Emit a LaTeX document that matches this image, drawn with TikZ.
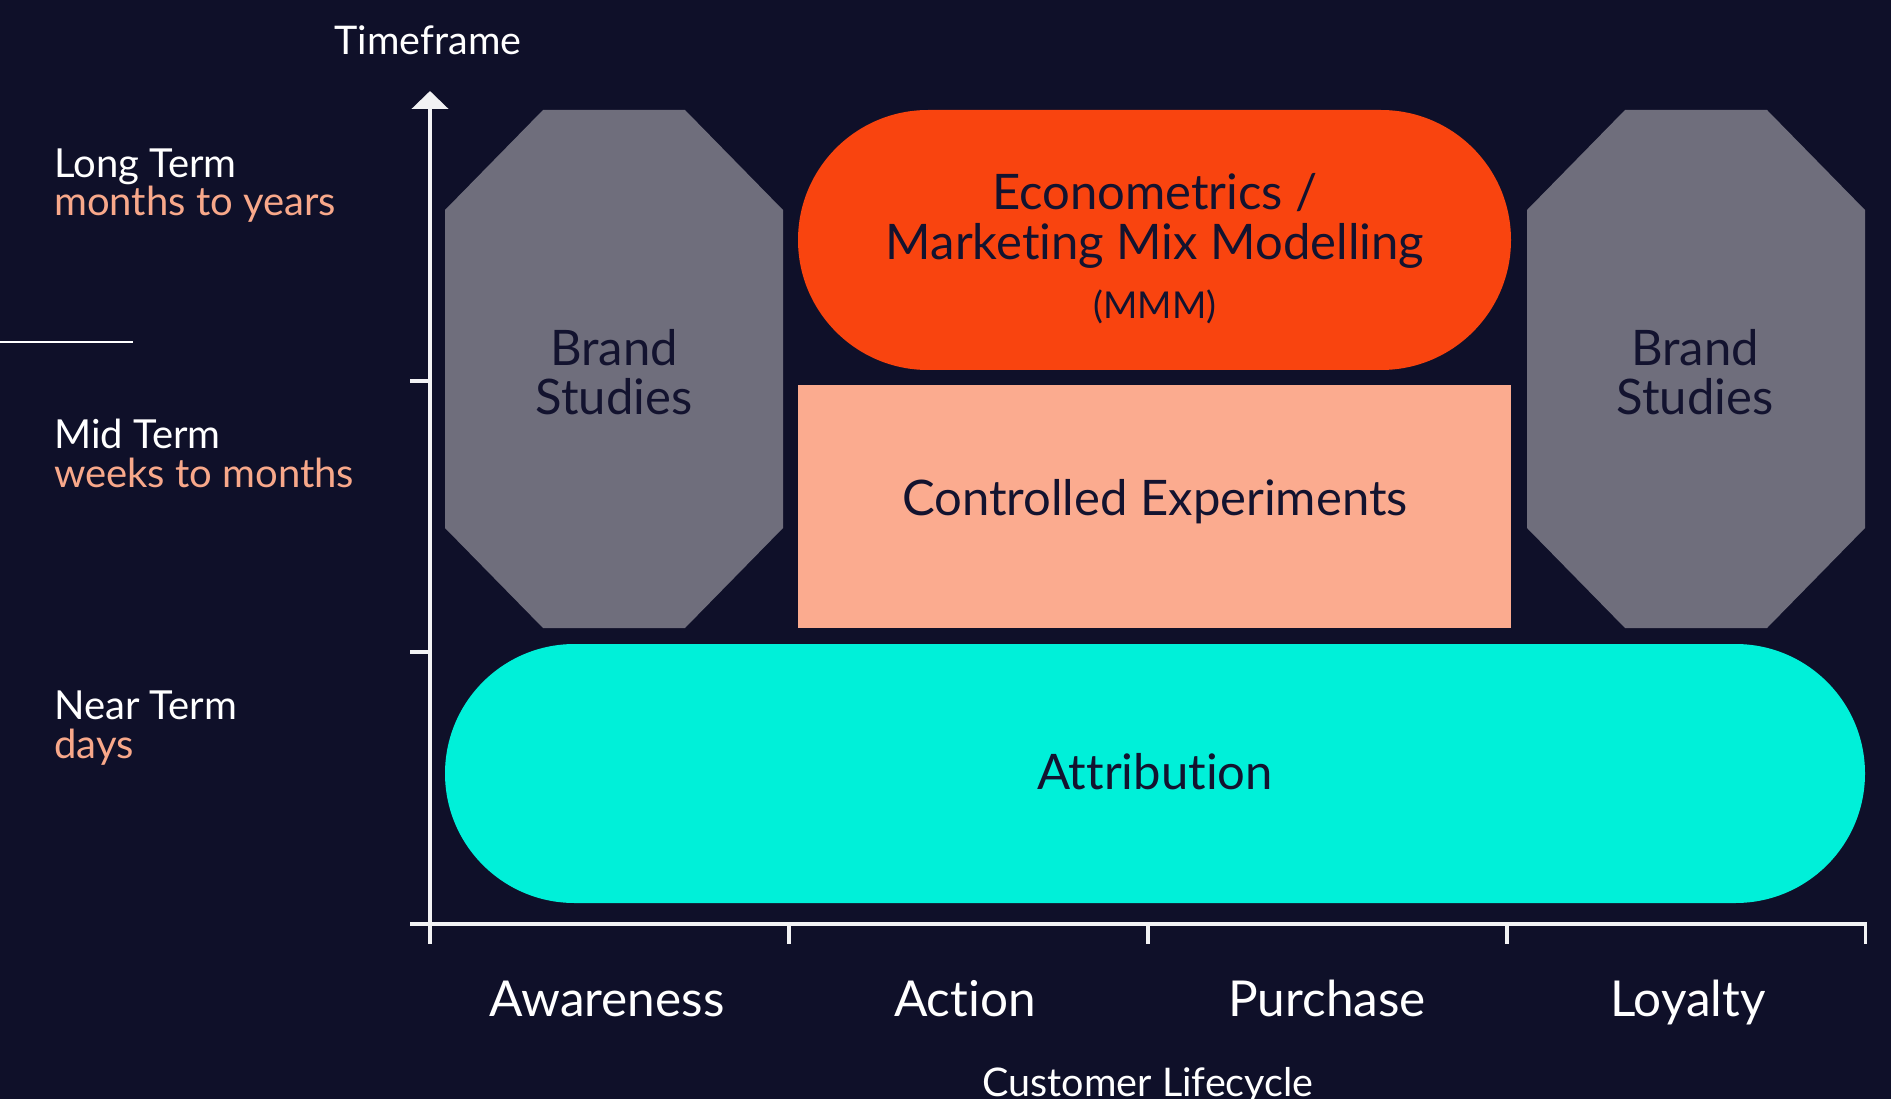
\documentclass[tikz,border=0pt]{standalone}
\usepackage{fontspec}
\setmainfont{Lato}[RawFeature={-liga}]
\usetikzlibrary{arrows.meta}
\definecolor{bg}{HTML}{0F1029}
\definecolor{octgray}{HTML}{6F6E7C}
\definecolor{mmmred}{HTML}{F9440F}
\definecolor{salmon}{HTML}{FBAB8F}
\definecolor{cyanfill}{HTML}{00F0D9}
\definecolor{ink}{HTML}{13132F}
\definecolor{salmontext}{HTML}{F8A88A}
\definecolor{axiswhite}{HTML}{F2F2F4}
\begin{document}
\begin{tikzpicture}[x=1pt,y=-1pt,
  bigtext/.style={font=\fontsize{49}{49}\selectfont, text=ink, inner sep=0pt, anchor=base},
  mmmtext/.style={font=\fontsize{37}{37}\selectfont, text=ink, inner sep=0pt, anchor=base},
  axislabel/.style={font=\fontsize{49.5}{49.5}\selectfont, text=white, inner sep=0pt, anchor=base},
  termtext/.style={font=\fontsize{40}{40}\selectfont, text=white, inner sep=0pt, anchor=base west},
  subtext/.style={font=\fontsize{40}{40}\selectfont, text=salmontext, inner sep=0pt, anchor=base west},
  titletext/.style={font=\fontsize{39.5}{39.5}\selectfont, text=white, inner sep=0pt, anchor=base},
  axisline/.style={draw=axiswhite, line width=4.5pt},
  tickline/.style={draw=axiswhite, line width=3.5pt}]
\fill[bg] (0,0) rectangle (1891,1099);
\useasboundingbox (0,0) rectangle (1891,1099);

% shapes
\fill[octgray] (543,110) -- (685,110) -- (783,210) -- (783,528) -- (685,628) -- (543,628) -- (445,528) -- (445,210) -- cycle;
\fill[octgray] (1625,110) -- (1767,110) -- (1865,210) -- (1865,528) -- (1767,628) -- (1625,628) -- (1527,528) -- (1527,210) -- cycle;
\fill[mmmred, rounded corners=130pt] (798,110) rectangle (1511,370);
\fill[salmon] (798,385) rectangle (1511,628);
\fill[cyanfill, rounded corners=129.5pt] (445,644) rectangle (1865,903);

% shape texts
\node[bigtext] (bs1a) at (614,366) {Brand};
\node[bigtext] (bs1b) at (614,414) {Studies};
\node[bigtext] (bs2a) at (1695,366) {Brand};
\node[bigtext] (bs2b) at (1695,414) {Studies};
\node[bigtext] (eco1) at (1155,210) {Econometrics /};
\node[bigtext] (eco2) at (1155,260) {Marketing Mix Modelling};
\node[mmmtext] (eco3) at (1155,319) {(MMM)};
\node[bigtext] (ce) at (1155,515) {Controlled Experiments};
\node[bigtext] (att) at (1155,789) {Attribution};

% axes
\coordinate (origin) at (430,924);
\coordinate (ytop) at (430,91);
\coordinate (xleft) at (410,924);
\coordinate (xright) at (1867,924);
\draw[axisline, -{Triangle[width=36pt,length=18pt]}] (origin) -- (ytop);
\draw[axisline] (xleft) -- (xright);
\foreach \yy/\nm in {381/ta, 652/tb} {
  \coordinate (\nm l) at (410,\yy);
  \coordinate (\nm r) at (430,\yy);
  \draw[tickline] (\nm l) -- (\nm r);
}
\foreach \xx/\nm in {430/xa, 789/xb, 1148/xc, 1507/xd, 1865.5/xe} {
  \coordinate (\nm t) at (\xx,924);
  \coordinate (\nm b) at (\xx,944);
  \draw[tickline] (\nm t) -- (\nm b);
}
\coordinate (hl1) at (0,342);
\coordinate (hl2) at (133,342);
\draw[white, line width=1.5pt] (hl1) -- (hl2);

% axis titles
\node[titletext] (tf) at (428,55) {Timeframe};
\node[titletext] (cl) at (1148,1096) {Customer Lifecycle};

% left labels
\node[termtext] (lt) at (54,178) {Long Term};
\node[subtext] (lts) at (54,216) {months to years};
\node[termtext] (mt) at (54,448) {Mid Term};
\node[subtext] (mts) at (54,487) {weeks to months};
\node[termtext] (nt) at (54,719) {Near Term};
\node[subtext] (nts) at (54,758) {days};

% bottom labels
\node[axislabel] (aw) at (607,1016) {Awareness};
\node[axislabel] (ac) at (965,1016) {Action};
\node[axislabel] (pu) at (1327,1016) {Purchase};
\node[axislabel] (lo) at (1688,1016) {Loyalty};
\end{tikzpicture}
\end{document}
